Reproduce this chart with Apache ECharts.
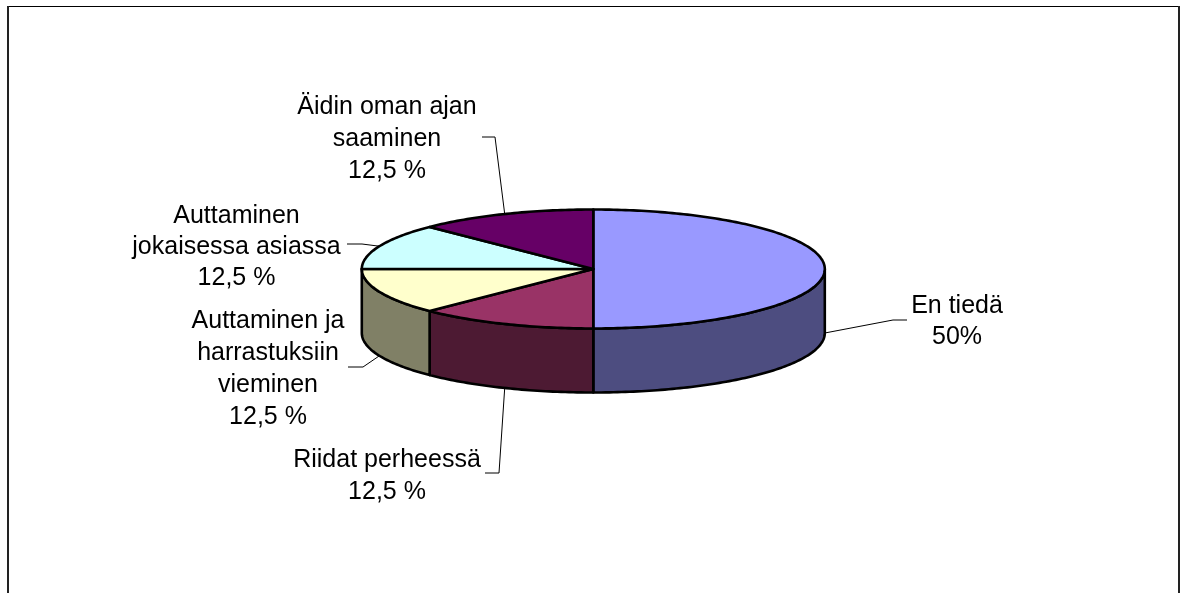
<!DOCTYPE html>
<html>
<head>
<meta charset="utf-8">
<title>Pie</title>
<script src="https://cdn.jsdelivr.net/npm/echarts@6/dist/echarts.min.js"></script>
<style>
  html, body { margin: 0; padding: 0; background: #fff; }
  #chart { width: 1186px; height: 593px; }
</style>
</head>
<body>
<div id="chart"></div>
<script>
// clockwise from 12 o'clock
const sliceNames = ['En tiedä', 'Riidat perheessä', 'Auttaminen ja\nharrastuksiin\nvieminen', 'Auttaminen\njokaisessa asiassa', 'Äidin oman ajan\nsaaminen'];
const sliceValues = [50, 12.5, 12.5, 12.5, 12.5];
const sliceLabels = ['50%', '12,5 %', '12,5 %', '12,5 %', '12,5 %'];

const topColors = ['#9999ff', '#993366', '#ffffcc', '#ccffff', '#660066'];
const wallColors = ['#4d4d80', '#4d1a33', '#808066', '#668080', '#330033'];

// the ellipse of the pie top
const cx = 593.3, cy = 269, rx = 231.5, ry = 59.5, depth = 64;

// label centre and leader line bend + end, per slice
const labelLayout = [
  { x: 957, y: 322, lh: 31, bend: [893, 320], end: [907, 320] },
  { x: 387, y: 476, lh: 32, bend: [499, 473], end: [485, 473] },
  { x: 268, y: 369, lh: 32, bend: [363, 367], end: [348, 367] },
  { x: 236.5, y: 247, lh: 31, bend: [362, 244], end: [347, 244] },
  { x: 387, y: 139, lh: 32, bend: [495, 137], end: [482, 137] }
];

const total = sliceValues.reduce((a, b) => a + b, 0);

function rim(deg, dy) {
  const t = deg * Math.PI / 180;
  return [cx + rx * Math.sin(t), cy - ry * Math.cos(t) + (dy || 0)];
}

function arc(a0, a1, dy) {
  const pts = [];
  const n = Math.max(2, Math.ceil(Math.abs(a1 - a0)));
  for (let i = 0; i <= n; i++) pts.push(rim(a0 + (a1 - a0) * i / n, dy));
  return pts;
}

function renderSlice(params, api) {
  const i = params.dataIndex;
  const before = sliceValues.slice(0, i).reduce((a, b) => a + b, 0);
  const a0 = before / total * 360;
  const a1 = (before + sliceValues[i]) / total * 360;
  const mid = (a0 + a1) / 2;
  const children = [];
  const edge = { stroke: '#000', lineWidth: 2.6, lineJoin: 'round' };

  // leader line starts on the visible rim at the middle of the slice
  const lay = labelLayout[i];
  const lower = mid >= 90 && mid <= 270;
  children.push({
    type: 'polyline',
    shape: { points: [rim(mid, lower ? depth : 0), lay.bend, lay.end] },
    style: { stroke: '#000', lineWidth: 1, fill: null }
  });

  // only the part between 3 and 9 o'clock shows a wall
  const w0 = Math.max(a0, 90), w1 = Math.min(a1, 270);
  if (w1 > w0) {
    children.push({
      type: 'polygon',
      shape: { points: arc(w0, w1, 0).concat(arc(w1, w0, depth)) },
      style: Object.assign({ fill: wallColors[i] }, edge)
    });
  }
  children.push({
    type: 'polygon',
    shape: { points: [[cx, cy]].concat(arc(a0, a1, 0)) },
    style: Object.assign({ fill: topColors[i] }, edge)
  });

  children.push({
    type: 'text',
    style: {
      x: lay.x,
      y: lay.y,
      text: sliceNames[i] + '\n' + sliceLabels[i],
      fill: '#000',
      font: '25px "Liberation Sans", Arial, sans-serif',
      lineHeight: lay.lh,
      align: 'center',
      verticalAlign: 'middle'
    }
  });
  return { type: 'group', children: children };
}

const chart = echarts.init(document.getElementById('chart'));
chart.setOption({
  animation: false,
  backgroundColor: '#fff',
  graphic: [
    { type: 'line', silent: true, shape: { x1: 8, y1: 6.5, x2: 1180, y2: 6.5 }, style: { stroke: '#000', lineWidth: 1 } },
    { type: 'line', silent: true, shape: { x1: 8, y1: 6, x2: 8, y2: 593 }, style: { stroke: '#222', lineWidth: 2 } },
    { type: 'line', silent: true, shape: { x1: 1179, y1: 6, x2: 1179, y2: 593 }, style: { stroke: '#222', lineWidth: 2 } }
  ],
  series: [{
    type: 'custom',
    coordinateSystem: 'none',
    clip: false,
    silent: true,
    renderItem: renderSlice,
    data: sliceValues.map((v, i) => ({ name: sliceNames[i], value: v }))
  }]
});
</script>
</body>
</html>
